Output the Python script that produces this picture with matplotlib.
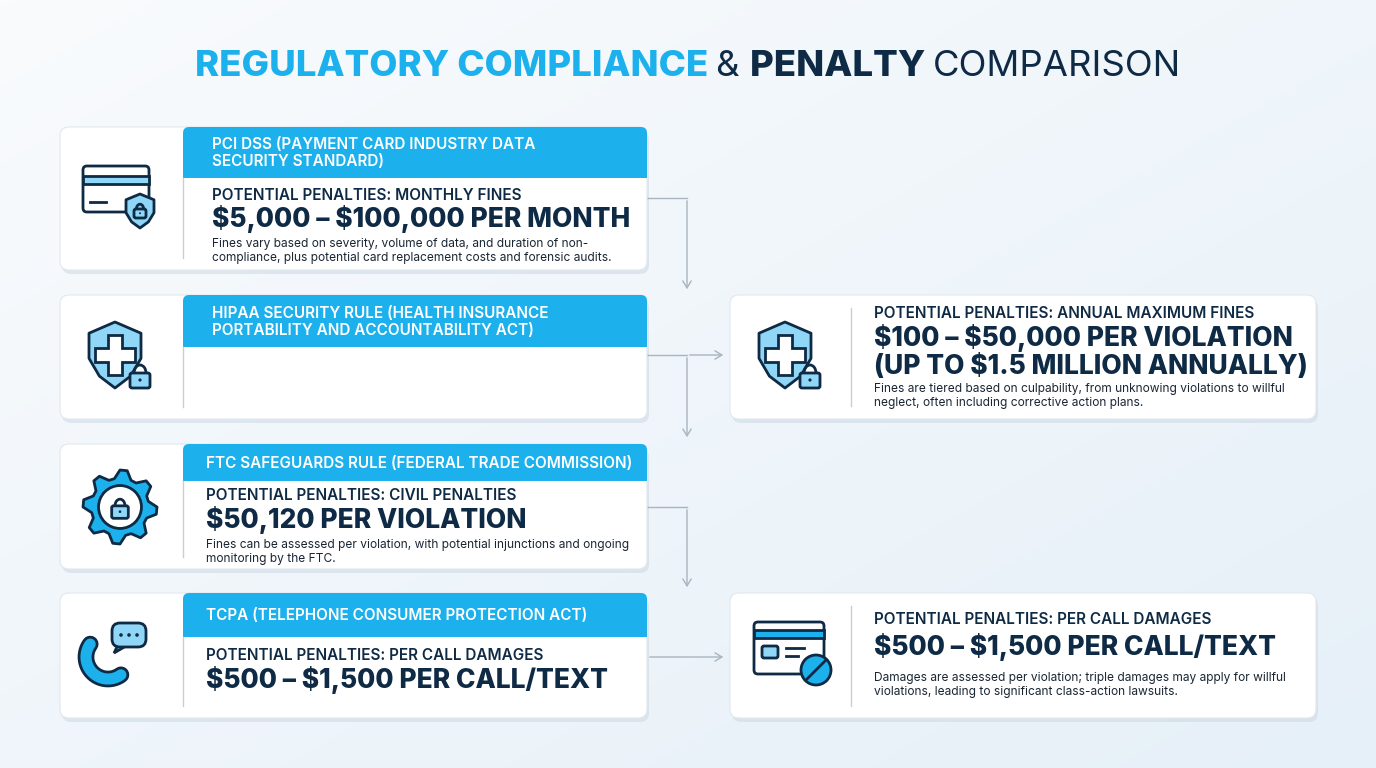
import numpy as np
import matplotlib
matplotlib.use("Agg")
import matplotlib.pyplot as plt
from matplotlib.patches import FancyBboxPatch, Rectangle, Polygon, Circle, Arc, FancyArrowPatch
from matplotlib.colors import LinearSegmentedColormap
plt.rcParams['text.parse_math'] = False

# ---------------- data ----------------
titles = ["PCI DSS (PAYMENT CARD INDUSTRY DATA\nSECURITY STANDARD)",
          "HIPAA SECURITY RULE (HEALTH INSURANCE\nPORTABILITY AND ACCOUNTABILITY ACT)",
          "FTC SAFEGUARDS RULE (FEDERAL TRADE COMMISSION)",
          "TCPA (TELEPHONE CONSUMER PROTECTION ACT)"]
labels = ["POTENTIAL PENALTIES: MONTHLY FINES",
          "POTENTIAL PENALTIES: ANNUAL MAXIMUM FINES",
          "POTENTIAL PENALTIES: CIVIL PENALTIES",
          "POTENTIAL PENALTIES: PER CALL DAMAGES"]
amounts = ["$5,000 – $100,000 PER MONTH",
           "$100 – $50,000 PER VIOLATION\n(UP TO $1.5 MILLION ANNUALLY)",
           "$50,120 PER VIOLATION",
           "$500 – $1,500 PER CALL/TEXT"]
descs = ["Fines vary based on severity, volume of data, and duration of non-\ncompliance, plus potential card replacement costs and forensic audits.",
         "Fines are tiered based on culpability, from unknowing violations to willful\nneglect, often including corrective action plans.",
         "Fines can be assessed per violation, with potential injunctions and ongoing\nmonitoring by the FTC.",
         "Damages are assessed per violation; triple damages may apply for willful\nviolations, leading to significant class-action lawsuits."]

CYAN = "#1cb1ec"
DARK = "#0e2a44"
LBLUE = "#8fd6f7"
FONT = "Inter"

fig = plt.figure(figsize=(13.76, 7.68), dpi=100)
ax = fig.add_axes([0, 0, 1, 1])
ax.set_xlim(0, 1376); ax.set_ylim(768, 0); ax.axis("off")

g = np.linspace(0, 1, 256)
X, Y = np.meshgrid(g, g)
grad = 0.5 * X + 0.5 * Y
cm = LinearSegmentedColormap.from_list("bg", ["#f9fbfd", "#e6f0f8"])
ax.imshow(grad, cmap=cm, extent=[0, 1376, 768, 0], aspect="auto", zorder=0)

fig.canvas.draw()
r = fig.canvas.get_renderer()
parts = [("REGULATORY COMPLIANCE ", CYAN, "heavy"), ("& ", DARK, "normal"),
         ("PENALTY ", DARK, "heavy"), ("COMPARISON", DARK, "normal")]
objs = []
for s, c, w in parts:
    t = ax.text(0, 66, s, color=c, fontsize=26.3, fontweight=w, family=FONT, va="center", ha="left", zorder=5)
    objs.append(t)
widths = [t.get_window_extent(r).width for t in objs]
x = 688 - sum(widths) / 2
for t, w in zip(objs, widths):
    t.set_x(x); x += w


def card(x0, y0, x1, y1, header_h=None):
    ax.add_patch(FancyBboxPatch((x0 + 2, y0 + 4), x1 - x0, y1 - y0, boxstyle="round,pad=0,rounding_size=9",
                                fc="#c9d6e2", ec="none", alpha=0.5, zorder=1))
    ax.add_patch(FancyBboxPatch((x0, y0), x1 - x0, y1 - y0, boxstyle="round,pad=0,rounding_size=9",
                                fc="white", ec="#e2e8ee", lw=0.8, zorder=2))
    if header_h:
        ax.add_patch(FancyBboxPatch((183, y0), x1 - 183, header_h, boxstyle="round,pad=0,rounding_size=6",
                                    fc=CYAN, ec="none", zorder=3))
        ax.add_patch(Rectangle((183, y0 + 8), x1 - 183, header_h - 8, fc=CYAN, ec="none", zorder=3))
        ax.plot([183, 183], [y0 + header_h, y1 - 12], color="#c8ced6", lw=1, zorder=3)


def shield(cx, cy, w, h, plus=True):
    top = cy - h / 2
    pts = [(cx, top), (cx + w / 2, top + 0.17 * h), (cx + w / 2, top + 0.55 * h), (cx + 0.3 * w, top + 0.82 * h),
           (cx, top + h), (cx - 0.3 * w, top + 0.82 * h), (cx - w / 2, top + 0.55 * h), (cx - w / 2, top + 0.17 * h)]
    ax.add_patch(Polygon(pts, closed=True, fc=LBLUE, ec=DARK, lw=2, joinstyle="round", zorder=4))
    if plus:
        a, b = w * 0.14, w * 0.38
        ax.add_patch(Polygon([(cx - a, cy - b), (cx + a, cy - b), (cx + a, cy - a), (cx + b, cy - a), (cx + b, cy + a),
                              (cx + a, cy + a), (cx + a, cy + b), (cx - a, cy + b), (cx - a, cy + a), (cx - b, cy + a),
                              (cx - b, cy - a), (cx - a, cy - a)], closed=True, fc="white", ec=DARK, lw=2, zorder=5))


def lock(cx, cy, s, fc=LBLUE):
    ax.add_patch(Arc((cx, cy - s * 0.25), s * 0.6, s * 0.8, theta1=180, theta2=360, color=DARK, lw=2, zorder=6))
    ax.add_patch(FancyBboxPatch((cx - s / 2, cy - s * 0.25), s, s * 0.75, boxstyle="round,pad=0,rounding_size=2",
                                fc=fc, ec=DARK, lw=2, zorder=7))
    ax.add_patch(Circle((cx, cy + s * 0.1), s * 0.08, fc=DARK, ec="none", zorder=8))


def card_icon(cx, cy):
    ax.add_patch(FancyBboxPatch((cx - 35, cy - 28), 66, 46, boxstyle="round,pad=0,rounding_size=4",
                                fc="white", ec=DARK, lw=2, zorder=4))
    ax.add_patch(Rectangle((cx - 35, cy - 18), 66, 8, fc=LBLUE, ec=DARK, lw=2, zorder=4))
    ax.plot([cx - 28, cx - 12], [cy + 8, cy + 8], color=DARK, lw=2, zorder=5)


def gear(cx, cy, R):
    n = 8
    ang = np.linspace(0, 2 * np.pi, n * 4, endpoint=False)
    rad = np.tile([R, R, R * 0.78, R * 0.78], n)
    pts = [(cx + rr * np.cos(a), cy + rr * np.sin(a)) for a, rr in zip(ang, rad)]
    ax.add_patch(Polygon(pts, closed=True, fc=CYAN, ec=DARK, lw=2, joinstyle="round", zorder=4))
    ax.add_patch(Circle((cx, cy), R * 0.58, fc="white", ec=DARK, lw=2, zorder=5))
    lock(cx, cy + 3, R * 0.45, fc=LBLUE)


def phone(cx, cy):
    t = np.linspace(np.pi * 0.8, np.pi * 1.7, 40)
    xs = cx - 2 + 22 * np.cos(t)
    ys = cy + 2 - 22 * np.sin(t)
    ax.plot(xs, ys, color=DARK, lw=12, solid_capstyle="round", zorder=4)
    ax.plot(xs, ys, color=CYAN, lw=8, solid_capstyle="round", zorder=5)
    ax.add_patch(FancyBboxPatch((cx + 2, cy - 32), 34, 24, boxstyle="round,pad=0,rounding_size=8",
                                fc=LBLUE, ec=DARK, lw=2, zorder=4))
    ax.add_patch(Polygon([(cx + 8, cy - 10), (cx + 4, cy - 2), (cx + 16, cy - 9)], fc=LBLUE, ec=DARK, lw=2, zorder=3))
    for dx in (11, 19, 27):
        ax.add_patch(Circle((cx + dx, cy - 20), 1.8, fc=DARK, zorder=6))


def block_icon(cx, cy):
    ax.add_patch(FancyBboxPatch((cx - 36, cy - 30), 70, 52, boxstyle="round,pad=0,rounding_size=4",
                                fc="white", ec=DARK, lw=2, zorder=4))
    ax.add_patch(Rectangle((cx - 36, cy - 22), 70, 8, fc=CYAN, ec=DARK, lw=2, zorder=4))
    ax.add_patch(FancyBboxPatch((cx - 28, cy - 6), 16, 12, boxstyle="round,pad=0,rounding_size=2",
                                fc=LBLUE, ec=DARK, lw=2, zorder=5))
    ax.plot([cx - 4, cx + 14], [cy - 4, cy - 4], color=DARK, lw=2, zorder=5)
    ax.plot([cx - 4, cx + 8], [cy + 4, cy + 4], color=DARK, lw=2, zorder=5)
    ax.add_patch(Circle((cx + 26, cy + 18), 15, fc=CYAN, ec=DARK, lw=2, zorder=6))
    ax.plot([cx + 16, cx + 36], [cy + 28, cy + 8], color=DARK, lw=2, zorder=7)


def texts(x, ylab, yamt, ydesc, i, desc_i=None):
    ax.text(x, ylab, labels[i], color=DARK, fontsize=11, fontweight="semibold", family=FONT, va="center", zorder=6)
    ax.text(x, yamt, amounts[i], color=DARK, fontsize=19, fontweight="heavy", family=FONT, va="center",
            zorder=6, linespacing=1.05)
    if ydesc is not None:
        ax.text(x, ydesc, descs[i if desc_i is None else desc_i], color="#1a2633", fontsize=8.6, family=FONT,
                va="center", zorder=6, linespacing=1.25)


lc = "#a9b4bf"
def seg(xs, ys):
    ax.plot(xs, ys, color=lc, lw=1, zorder=1.5)
def arrow(p0, p1):
    ax.add_patch(FancyArrowPatch(p0, p1, arrowstyle="->,head_length=5,head_width=3", color=lc, lw=1, zorder=1.5))

seg([647, 687], [198, 198]); arrow((687, 198), (687, 292))
seg([647, 687], [355, 355]); arrow((687, 355), (726, 355)); arrow((687, 355), (687, 440))
seg([647, 687], [507, 507]); arrow((687, 507), (687, 590))
arrow((647, 657), (726, 657))

card(60, 127, 647, 270, 51)
ax.text(212, 153, titles[0], color="white", fontsize=11, fontweight="semibold", family=FONT, va="center", zorder=6, linespacing=1.15)
texts(212, 195, 219, 251, 0)
card_icon(118, 194); shield(140, 211, 28, 34, plus=False); lock(140, 212, 12, fc=LBLUE)

card(60, 295, 647, 419, 52)
ax.text(212, 322, titles[1], color="white", fontsize=11, fontweight="semibold", family=FONT, va="center", zorder=6, linespacing=1.15)
shield(115, 355, 52, 66); lock(140, 378, 20)

card(730, 295, 1316, 419)
ax.plot([851, 851], [308, 406], color="#c8ced6", lw=1, zorder=3)
shield(785, 355, 52, 66); lock(810, 378, 20)
texts(874, 313, 352, 396, 1)

card(60, 444, 647, 569, 37)
ax.text(206, 463, titles[2], color="white", fontsize=11, fontweight="semibold", family=FONT, va="center", zorder=6)
texts(206, 495, 520, 552, 2)
gear(120, 507, 37)

card(60, 593, 647, 718, 44)
ax.text(206, 615, titles[3], color="white", fontsize=11, fontweight="semibold", family=FONT, va="center", zorder=6)
texts(206, 655, 680, None, 3)
phone(110, 655)

card(730, 593, 1316, 718)
ax.plot([851, 851], [606, 706], color="#c8ced6", lw=1, zorder=3)
block_icon(790, 652)
texts(874, 619, 647, 685, 3)

fig.savefig("out.png", dpi=100)
